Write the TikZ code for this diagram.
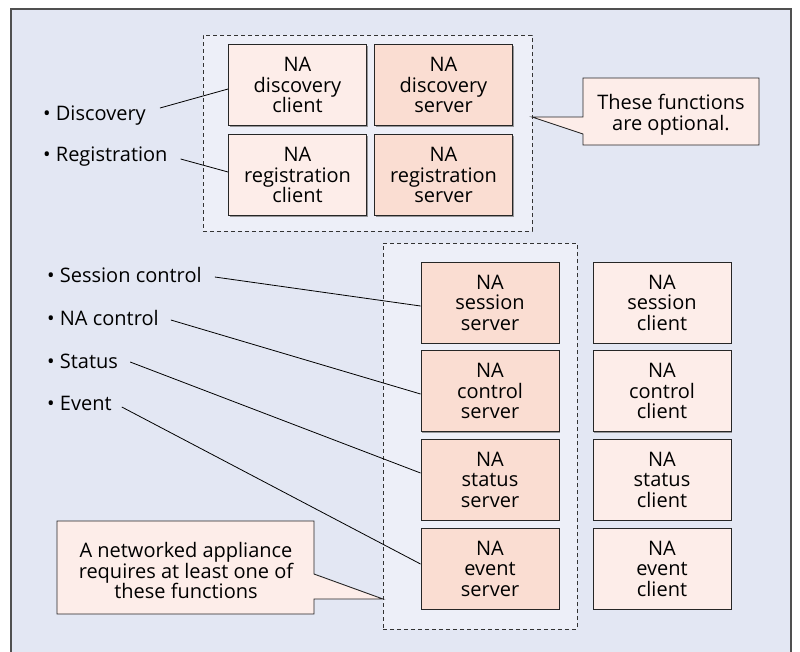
\documentclass[tikz,border=0pt]{standalone}
\usepackage{fontspec}
\setmainfont{Open Sans}
\usetikzlibrary{calc,shadows}
\definecolor{bgout}{HTML}{E3E7F3}
\definecolor{bgin}{HTML}{EDEFF8}
\definecolor{clientfill}{HTML}{FDEDE9}
\definecolor{serverfill}{HTML}{FADDD2}
\definecolor{framegray}{HTML}{505050}
\tikzset{
  fbox/.style={draw=black!85, line width=0.9pt, minimum width=138pt, minimum height=81pt,
    align=center, inner sep=0pt, font=\fontsize{20}{20.5}\selectfont,
    drop shadow={shadow xshift=1pt, shadow yshift=-1pt, fill=black!55, opacity=0.7}},
  clientbox/.style={fbox, fill=clientfill},
  serverbox/.style={fbox, fill=serverfill},
  grp/.style={draw=black!80, line width=0.9pt, dash pattern=on 4pt off 3pt, fill=bgin},
  blabel/.style={anchor=west, inner sep=0pt, font=\fontsize{20}{20.5}\selectfont},
  conn/.style={draw=black, line width=0.8pt},
  callout/.style={draw=black!85, line width=0.9pt, fill=clientfill, line join=miter},
  ctext/.style={align=center, inner sep=0pt, font=\fontsize{20}{20.8}\selectfont}
}
\begin{document}
\begin{tikzpicture}[x=1pt,y=-1pt]
\useasboundingbox (0,0) rectangle (800,651);
\fill[white] (0,0) rectangle (800,651);
% outer frame
\draw[framegray, line width=1.1pt, fill=bgout] (11,9) rectangle (791,670);
% groups
\node[grp, minimum width=329pt, minimum height=196pt, inner sep=0pt] (topgrp) at (367.5,133) {};
\node[grp, minimum width=194pt, minimum height=386pt, inner sep=0pt] (botgrp) at (480,436) {};
% top boxes
\node[clientbox] (dc) at (297.5,85) {NA\\discovery\\client};
\node[serverbox] (ds) at (443.5,85) {NA\\discovery\\server};
\node[clientbox] (rc) at (297.5,175) {NA\\registration\\client};
\node[serverbox] (rs) at (443.5,175) {NA\\registration\\server};
% lower servers
\node[serverbox] (ss) at (490,302.5) {NA\\session\\server};
\node[serverbox] (cs) at (490,391) {NA\\control\\server};
\node[serverbox] (sts) at (490,479.5) {NA\\status\\server};
\node[serverbox] (es) at (490,568.5) {NA\\event\\server};
% clients
\node[clientbox] (sc) at (662,302.5) {NA\\session\\client};
\node[clientbox] (cc) at (662,391) {NA\\control\\client};
\node[clientbox] (stc) at (662,479.5) {NA\\status\\client};
\node[clientbox] (ec) at (662,568.5) {NA\\event\\client};
% bullet labels
\node[blabel] (lDisc) at (43,116) {\textbullet\ Discovery};
\node[blabel] (lReg) at (43,157) {\textbullet\ Registration};
\node[blabel] (lSess) at (47,275) {\textbullet\ Session control};
\node[blabel] (lNac) at (47,318) {\textbullet\ NA control};
\node[blabel] (lStat) at (47,361) {\textbullet\ Status};
\node[blabel] (lEv) at (47,403) {\textbullet\ Event};
% connectors
\draw[conn] ($(lDisc.east)+(14,-8)$) -- ($(dc.west)+(0,4)$);
\draw[conn] ($(lReg.east)+(13,2)$) -- ($(rc.west)+(0,-3)$);
\draw[conn] ($(lSess.east)+(13,2)$) -- ($(ss.west)+(0,3.5)$);
\draw[conn] ($(lNac.east)+(12,2)$) -- ($(cs.west)+(0,3)$);
\draw[conn] ($(lStat.east)+(12,1)$) -- ($(sts.west)+(0,-6.5)$);
\draw[conn] ($(lEv.east)+(10,4)$) -- ($(es.west)+(0,-4.5)$);
% callout top
\coordinate (tipA) at (532,117);
\draw[callout] (583,117) -- (tipA) -- (583,134) -- (583,145) -- (759,145) -- (759,78) -- (583,78) -- cycle;
\node[ctext] (optnote) at (671,114.5) {These functions\\are optional.};
% callout bottom
\coordinate (tipB) at (383,599);
\draw[callout] (314,574) -- (tipB) -- (314,599) -- (314,614) -- (57,614) -- (57,521) -- (314,521) -- cycle;
\node[ctext] (reqnote) at (186,570.5) {A networked appliance\\requires at least one of\\these functions};
\end{tikzpicture}
\end{document}
